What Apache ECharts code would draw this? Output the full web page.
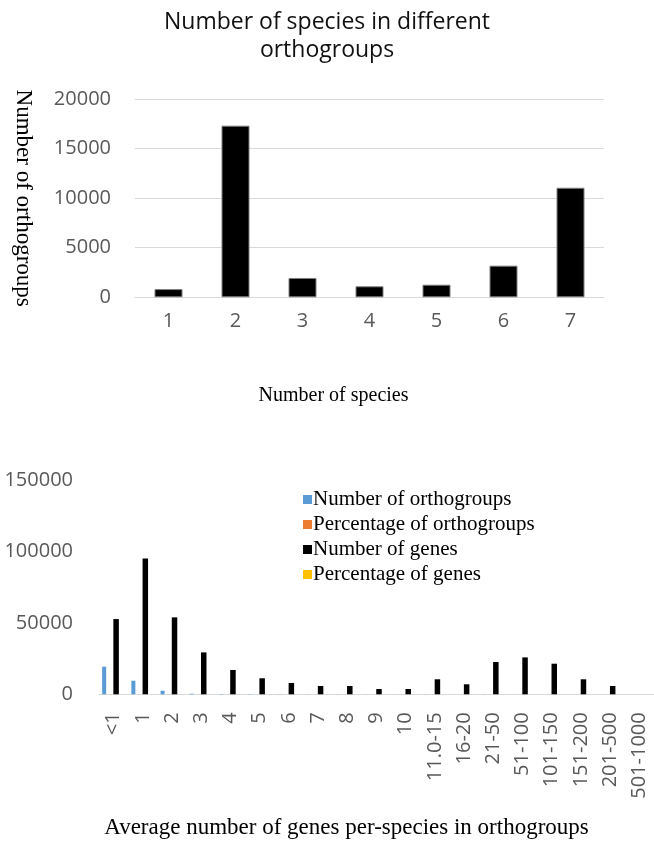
<!DOCTYPE html>
<html>
<head>
<meta charset="utf-8">
<script src="https://cdn.jsdelivr.net/npm/echarts@6/dist/echarts.min.js"></script>
<style>
  html, body { margin: 0; padding: 0; background: #fff; }
  #chart { width: 654px; height: 843px; }
</style>
</head>
<body>
<div id="chart"></div>
<script>
// Upper panel: orthogroups by number of species
const speciesCounts = ['1', '2', '3', '4', '5', '6', '7'];
const orthogroupsBySpecies = [830, 17310, 1950, 1110, 1270, 3190, 11050];

// Lower panel: average genes per species in an orthogroup
const geneBins = ['<1', '1', '2', '3', '4', '5', '6', '7', '8', '9', '10',
  '11.0-15', '16-20', '21-50', '51-100', '101-150', '151-200', '201-500', '501-1000'];
const numOrthogroups = [19300, 9500, 2500, 400, 200, 130, 90, 60, 50, 35, 30,
  60, 25, 50, 25, 12, 5, 2, 0];
const pctOrthogroups = [58.7, 28.9, 7.6, 1.2, 0.6, 0.4, 0.3, 0.2, 0.2, 0.1, 0.1,
  0.2, 0.1, 0.2, 0.1, 0.0, 0.0, 0.0, 0];
const numGenes = [52600, 95000, 53800, 29300, 17000, 11200, 7900, 5800, 5800, 3700, 3700,
  10500, 7000, 22600, 25800, 21400, 10500, 5800, 0];
const pctGenes = [13.5, 24.4, 13.8, 7.5, 4.4, 2.9, 2.0, 1.5, 1.5, 1.0, 1.0,
  2.7, 1.8, 5.8, 6.6, 5.5, 2.7, 1.5, 0];

const sans = "'Open Sans', sans-serif";
const serif = "'Liberation Serif', 'Times New Roman', serif";
const tickGray = '#595959';
const lineGray = '#d9d9d9';
const plain = v => String(v);

const chart = echarts.init(document.getElementById('chart'), null, { renderer: 'canvas' });

chart.setOption({
  backgroundColor: '#ffffff',
  animation: false,
  title: {
    text: 'Number of species in different\northogroups',
    left: 'center',
    top: 3,
    textStyle: { fontFamily: sans, fontSize: 23, fontWeight: 'normal', color: '#111', lineHeight: 28 }
  },
  legend: {
    data: ['Number of orthogroups', 'Percentage of orthogroups', 'Number of genes', 'Percentage of genes'],
    orient: 'vertical',
    left: 298,
    top: 484,
    itemWidth: 9,
    itemHeight: 9,
    itemGap: 4,
    icon: 'rect',
    itemStyle: { borderWidth: 0 },
    textStyle: { fontFamily: serif, fontSize: 21, color: '#000', lineHeight: 21, padding: [0, 0, 0, -4] }
  },
  grid: [
    { left: 135, top: 99, width: 469, height: 198.3 },
    { left: 99, top: 479.8, width: 555, height: 214.5 }
  ],
  xAxis: [
    {
      gridIndex: 0,
      type: 'category',
      data: speciesCounts,
      axisLine: { lineStyle: { color: lineGray, width: 1 } },
      axisTick: { show: false },
      axisLabel: { fontFamily: sans, fontSize: 20, color: tickGray, margin: 14 },
      name: 'Number of species',
      nameLocation: 'middle',
      nameGap: 88,
      nameTextStyle: { fontFamily: serif, fontSize: 20, color: '#000', padding: [0, 72, 0, 0] }
    },
    {
      gridIndex: 1,
      type: 'category',
      data: geneBins,
      axisLine: { lineStyle: { color: lineGray, width: 1 } },
      axisTick: { show: false },
      axisLabel: { fontFamily: sans, fontSize: 20, color: tickGray, rotate: 90, interval: 0, margin: 18 },
      name: 'Average number of genes per-species in orthogroups',
      nameLocation: 'middle',
      nameGap: 122,
      nameTextStyle: { fontFamily: serif, fontSize: 23, color: '#000', padding: [0, 60, 0, 0] }
    }
  ],
  yAxis: [
    {
      gridIndex: 0,
      type: 'value',
      min: 0,
      max: 20000,
      interval: 5000,
      axisLine: { show: false },
      axisTick: { show: false },
      splitLine: { lineStyle: { color: lineGray, width: 1 } },
      axisLabel: { fontFamily: sans, fontSize: 20, color: tickGray, margin: 24, formatter: plain },
      name: 'Number of orthogroups',
      nameLocation: 'middle',
      nameRotate: -90,
      nameGap: 100,
      nameTextStyle: { fontFamily: serif, fontSize: 23, color: '#000' }
    },
    {
      gridIndex: 1,
      type: 'value',
      min: 0,
      max: 150000,
      interval: 50000,
      axisLine: { show: false },
      axisTick: { show: false },
      splitLine: { show: false },
      axisLabel: { fontFamily: sans, fontSize: 20, color: tickGray, margin: 26, formatter: plain }
    }
  ],
  series: [
    {
      name: 'Orthogroups by species',
      type: 'bar',
      xAxisIndex: 0,
      yAxisIndex: 0,
      data: orthogroupsBySpecies,
      barWidth: 28,
      itemStyle: { color: '#000', borderColor: '#7f7f7f', borderWidth: 1 }
    },
    {
      name: 'Number of orthogroups',
      type: 'bar',
      xAxisIndex: 1,
      yAxisIndex: 1,
      data: numOrthogroups,
      barWidth: 4,
      barGap: '40%',
      itemStyle: { color: '#5B9BD5' }
    },
    {
      name: 'Percentage of orthogroups',
      type: 'bar',
      xAxisIndex: 1,
      yAxisIndex: 1,
      data: pctOrthogroups,
      barWidth: 4,
      barGap: '40%',
      itemStyle: { color: '#ED7D31' }
    },
    {
      name: 'Number of genes',
      type: 'bar',
      xAxisIndex: 1,
      yAxisIndex: 1,
      data: numGenes,
      barWidth: 5.5,
      barGap: '40%',
      itemStyle: { color: '#000' }
    },
    {
      name: 'Percentage of genes',
      type: 'bar',
      xAxisIndex: 1,
      yAxisIndex: 1,
      data: pctGenes,
      barWidth: 4,
      barGap: '40%',
      itemStyle: { color: '#FFC000' }
    }
  ]
});
</script>
</body>
</html>
